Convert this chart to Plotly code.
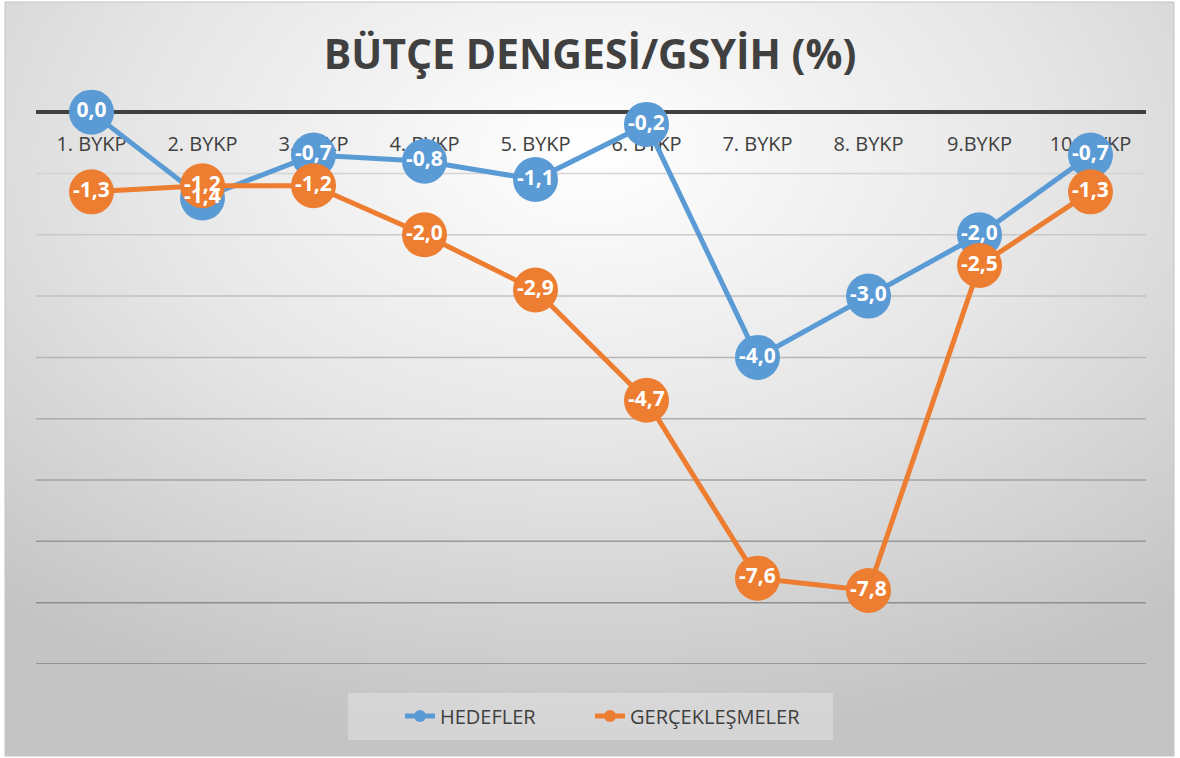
import base64
import plotly.graph_objects as go

# Budget balance / GDP (%) for each programme period
categories = ["1. BYKP", "2. BYKP", "3. BYKP", "4. BYKP", "5. BYKP",
              "6. BYKP", "7. BYKP", "8. BYKP", "9.BYKP", "10. BYKP"]
hedefler = [0.0, -1.4, -0.7, -0.8, -1.1, -0.2, -4.0, -3.0, -2.0, -0.7]
gerceklesmeler = [-1.3, -1.2, -1.2, -2.0, -2.9, -4.7, -7.6, -7.8, -2.5, -1.3]
grid_values = [-1, -2, -3, -4, -5, -6, -7, -8, -9]

W, H = 1180, 758
L, R, T, B = 36, 34, 106, 94
Y_MIN, Y_MAX = -9, 0.1
plot_w = W - L - R
plot_h = H - T - B

BLUE = "#5B9BD5"
ORANGE = "#ED7D31"
DARK = "#404040"
FONT = "Open Sans"


def paper_x(px):
    return (px - L) / plot_w


def paper_y(py):
    return (H - B - py) / plot_h


def fmt(v):
    return f"{v:.1f}".replace(".", ",")


# soft radial background for the chart area
bx0, by0, bx1, by1 = 5, 2, 1174, 756
bw, bh = bx1 - bx0, by1 - by0
svg = (
    f'<svg xmlns="http://www.w3.org/2000/svg" width="{bw}" height="{bh}" '
    f'viewBox="0 0 {bw} {bh}" preserveAspectRatio="none">'
    '<defs><radialGradient id="g" cx="0.5" cy="0.2" r="0.78" fx="0.5" fy="0.2">'
    '<stop offset="0" stop-color="#ffffff"/>'
    '<stop offset="0.5" stop-color="#e6e6e6"/>'
    '<stop offset="1" stop-color="#c4c4c4"/>'
    '</radialGradient></defs>'
    f'<rect width="{bw}" height="{bh}" fill="url(#g)"/></svg>'
)
bg_src = "data:image/svg+xml;base64," + base64.b64encode(svg.encode()).decode()

fig = go.Figure()

series = [("HEDEFLER", hedefler, BLUE, "legend"),
          ("GERÇEKLEŞMELER", gerceklesmeler, ORANGE, "legend2")]
for name, vals, color, leg in series:
    fig.add_trace(go.Scatter(
        x=categories, y=vals, name=name, mode="lines+markers",
        line=dict(color=color, width=5),
        marker=dict(color=color, size=45),
        cliponaxis=False, hoverinfo="skip", legend=leg,
    ))

# value labels on top of every marker
for name, vals, color, leg in series:
    fig.add_trace(go.Scatter(
        x=categories, y=vals, mode="text",
        text=[fmt(v) for v in vals], textposition="middle center",
        textfont=dict(family=FONT, size=21, color="white", weight="bold"),
        showlegend=False, hoverinfo="skip", cliponaxis=False,
    ))

x_lo, x_hi = -0.5, len(categories) - 0.5

shapes = []
for v in grid_values:
    level = int(212 - (abs(v) - 1) * 10)
    shapes.append(dict(
        type="line", xref="x", yref="y", x0=x_lo, x1=x_hi, y0=v, y1=v,
        line=dict(color=f"rgb({level},{level},{level})", width=1.5),
        layer="below",
    ))
# zero line
shapes.append(dict(
    type="rect", xref="x", yref="paper",
    x0=x_lo, x1=x_hi, y0=paper_y(114), y1=paper_y(110),
    fillcolor=DARK, line=dict(width=0), layer="below",
))
# legend panel
shapes.append(dict(
    type="rect", xref="paper", yref="paper",
    x0=paper_x(348), x1=paper_x(833), y0=paper_y(740), y1=paper_y(693),
    fillcolor="rgba(255,255,255,0.28)", line=dict(width=0), layer="below",
))
# outer frame
shapes.append(dict(
    type="rect", xref="paper", yref="paper",
    x0=paper_x(bx0), x1=paper_x(bx1), y0=paper_y(by1), y1=paper_y(by0),
    line=dict(color="#c4c4c4", width=1), layer="below",
))

legend_common = dict(
    orientation="h", xanchor="left",
    y=paper_y(716), yanchor="middle",
    bgcolor="rgba(0,0,0,0)", itemsizing="constant",
    font=dict(family=FONT, size=20, color=DARK),
)

fig.update_layout(
    width=W, height=H,
    margin=dict(l=L, r=R, t=T, b=B),
    paper_bgcolor="white",
    plot_bgcolor="rgba(0,0,0,0)",
    title=dict(
        text="BÜTÇE DENGESİ/GSYİH (%)",
        x=0.5, xref="container", xanchor="center",
        y=1 - 55 / H, yref="container", yanchor="middle",
        font=dict(family=FONT, size=41, color=DARK, weight="bold"),
    ),
    xaxis=dict(
        type="category", range=[x_lo, x_hi],
        side="top", ticklabelposition="inside",
        ticks="", showline=False, showgrid=False, zeroline=False,
        layer="below traces", ticklabelstandoff=28,
        tickfont=dict(family=FONT, size=20, color=DARK),
    ),
    yaxis=dict(
        range=[Y_MIN, Y_MAX], showticklabels=False, showgrid=False,
        zeroline=False, ticks="",
    ),
    legend=dict(x=paper_x(400), **legend_common),
    legend2=dict(x=paper_x(590), **legend_common),
    images=[dict(
        source=bg_src, xref="paper", yref="paper",
        x=paper_x(bx0), y=paper_y(by0),
        sizex=bw / plot_w, sizey=bh / plot_h,
        xanchor="left", yanchor="top", sizing="stretch", layer="below",
    )],
    shapes=shapes,
    showlegend=True,
)

fig.write_html("out.html")
